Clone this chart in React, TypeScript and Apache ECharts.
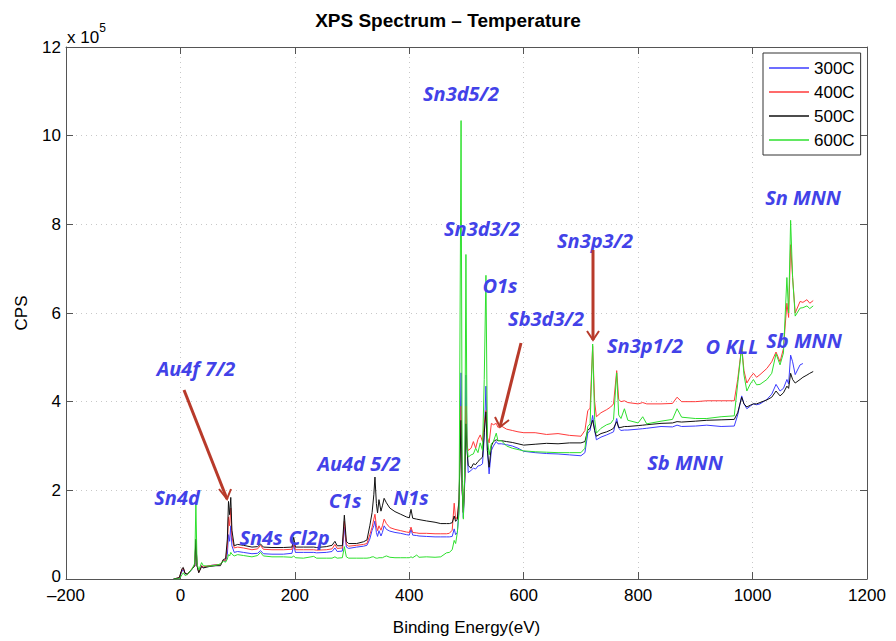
import React, { useEffect, useRef } from "react";
import * as echarts from "echarts";

// Binding energy (eV) sample points
const energies = [
  -12, -2, 3, 5, 8, 12, 20, 25, 27, 29, 32, 37, 40, 50, 62, 70, 75, 79, 82, 84, 86, 88, 90, 94,
  100, 110, 125, 135, 140, 145, 160, 180, 195, 198, 201, 215, 233, 238, 255, 265, 270, 274, 283,
  286.5, 290, 294, 308, 320, 326, 331, 335, 338, 340, 342.5, 344.5, 347, 350.5, 353, 356, 360,
  366, 375, 385, 395, 400, 403, 406, 413, 417, 430, 445, 455, 465, 470, 475, 478.5, 481, 484,
  487, 490.5, 492.5, 494.5, 497, 499, 501, 503, 508, 512, 516, 520, 524, 528, 531, 534, 536.5,
  539.5, 543.5, 547, 552, 555, 561, 570, 580, 590, 600, 620, 640, 660, 680, 700, 707, 712, 716,
  720.5, 724, 727, 735, 745, 752, 757, 762.5, 766, 770, 776, 782, 800, 808, 815, 840, 860, 868,
  876, 900, 920, 945, 968, 974, 981, 985, 990, 996, 1001.5, 1007, 1013, 1025, 1033.5, 1041,
  1048, 1054, 1060, 1063, 1066.5, 1070, 1074.5, 1083, 1088, 1095, 1100, 1106,
];

// CPS values in units of 1e5 (null = series not recorded there)
const cps300C = [
  0, 0.02, 0.18, 0.22, 0.12, 0.1, 0.22, 0.3, 0.85, 0.3, 0.16, 0.3, 0.26, 0.3, 0.32, 0.33, 0.42, 0.4, 0.55, 1.0, 0.85, 1.2, 0.75, 0.6,
  0.62, 0.6, 0.57, 0.58, 0.64, 0.57, 0.56, 0.56, 0.58, 0.77, 0.6, 0.6, 0.6, 0.59, 0.6, 0.62, 0.7, 0.62, 0.63,
  1.17, 0.72, 0.69, 0.72, 0.74, 0.76, 0.9, 1.1, 1.2, 1.31, 1.05, 0.96, 1.09, 0.97, 1.05, 1.2, 1.12,
  1.08, 1.05, 1.03, 1.0, 0.99, 1.12, 0.99, 0.98, 0.97, 0.96, 0.95, 0.95, 0.95, 0.95, 0.96, 1.13, 1.0, 1.05,
  1.6, 4.65, 2.0, 1.38, 2.2, 4.6, 3.0, 2.4, 2.45, 2.5, 2.48, 2.55, 2.56, 2.6, 3.2, 4.35, 2.9,
  2.37, 2.9, 3.0, 3.1, 3.05, 3.05, 3.03, 3.0, 2.95, 2.88, 2.85, 2.83, 2.82, 2.8, 2.78, 2.85, 3.29, 3.35,
  3.69, 3.35, 3.14, 3.2, 3.25, 3.29, 3.32, 3.62, 3.4, 3.35, 3.36, 3.36, 3.38, 3.39, 3.4, 3.44, 3.43, 3.47,
  3.44, 3.45, 3.47, 3.44, 3.45, 3.7, 4.13, 3.95, 3.84, 3.9, 3.95, 3.93, 3.95, 4.05, 4.17, 4.39,
  4.24, 4.3, 4.5, 4.4, 5.05, 4.9, 4.61, 4.83, 4.86, null, null, null,
];
const cps400C = [
  0, 0.03, 0.22, 0.25, 0.13, 0.1, 0.23, 0.3, 0.88, 0.3, 0.15, 0.3, 0.27, 0.3, 0.32, 0.33, 0.43, 0.42, 0.75, 1.4, 1.2, 1.6, 0.95, 0.7,
  0.72, 0.7, 0.66, 0.68, 0.76, 0.67, 0.66, 0.66, 0.67, 0.84, 0.66, 0.66, 0.66, 0.65, 0.66, 0.68, 0.78, 0.69, 0.7,
  1.3, 0.78, 0.74, 0.76, 0.78, 0.8, 1.0, 1.17, 1.35, 1.46, 1.2, 1.09, 1.2, 1.1, 1.2, 1.35, 1.25,
  1.16, 1.12, 1.09, 1.06, 1.05, 1.17, 1.05, 1.04, 1.03, 1.03, 1.02, 1.02, 1.02, 1.03, 1.1, 1.71, 1.35, 1.4,
  1.8, 3.9, 2.0, 1.5, 2.3, 3.9, 3.0, 2.9, 2.95, 3.1, 2.95, 3.15, 3.25, 3.1, 3.5, 3.8, 3.2,
  3.07, 3.51, 3.48, 3.51, 3.42, 3.45, 3.38, 3.35, 3.32, 3.3, 3.3, 3.26, 3.28, 3.24, 3.22, 3.35, 3.8, 3.85,
  5.25, 4.0, 3.66, 3.75, 3.82, 3.88, 3.95, 4.7, 4.05, 4.0, 4.02, 3.98, 3.95, 3.98, 3.95, 3.95, 3.96, 4.1,
  4.0, 4.0, 4.02, 4.02, 4.02, 4.5, 5.24, 4.7, 4.42, 4.55, 4.64, 4.55, 4.61, 4.75, 4.9, 5.12,
  4.9, 5.2, 6.22, 5.9, 7.54, 6.8, 6.0, 6.26, 6.24, 6.3, 6.22, 6.28,
];
const cps500C = [
  0, 0.03, 0.24, 0.26, 0.13, 0.11, 0.22, 0.3, 0.9, 0.3, 0.14, 0.28, 0.25, 0.28, 0.3, 0.3, 0.44, 0.46, 0.9, 1.75, 1.45, 1.84, 1.1, 0.75,
  0.78, 0.76, 0.72, 0.73, 0.79, 0.72, 0.71, 0.71, 0.72, 0.94, 0.72, 0.72, 0.72, 0.71, 0.73, 0.76, 0.85, 0.75, 0.75,
  1.44, 0.85, 0.8, 0.8, 0.84, 0.88, 1.2, 1.5, 1.9, 2.3, 1.7, 1.49, 1.79, 1.53, 1.65, 1.82, 1.72,
  1.6, 1.52, 1.46, 1.4, 1.38, 1.57, 1.37, 1.35, 1.34, 1.31, 1.28, 1.25, 1.25, 1.25, 1.27, 1.42, 1.3, 1.35,
  1.8, 3.58, 2.0, 1.5, 2.3, 3.5, 2.9, 2.56, 2.5, 2.6, 2.58, 2.65, 2.7, 2.75, 3.3, 3.77, 2.9,
  2.52, 3.0, 3.1, 3.14, 3.12, 3.12, 3.1, 3.08, 3.05, 3.02, 3.04, 3.06, 3.05, 3.07, 3.07, 3.1, 3.36, 3.4,
  3.58, 3.35, 3.22, 3.28, 3.32, 3.36, 3.4, 3.55, 3.42, 3.42, 3.44, 3.44, 3.46, 3.47, 3.48, 3.51, 3.52, 3.55,
  3.54, 3.56, 3.58, 3.59, 3.6, 3.75, 4.1, 3.95, 3.88, 3.92, 3.95, 3.95, 3.98, 4.04, 4.1, 4.24,
  4.13, 4.2, 4.35, 4.3, 4.64, 4.5, 4.42, 4.5, 4.55, 4.6, 4.64, 4.68,
];
const cps600C = [
  0, 0.0, 0.1, 0.14, 0.08, 0.1, 0.22, 0.35, 1.69, 0.35, 0.2, 0.37, 0.3, 0.29, 0.31, 0.34, 0.4, 0.38, 0.45, 0.55, 0.52, 0.6, 0.56, 0.52,
  0.55, 0.53, 0.5, 0.53, 0.6, 0.52, 0.5, 0.5, 0.49, 0.52, 0.48, 0.47, 0.51, 0.47, 0.47, 0.47, 0.5, 0.47, 0.48,
  0.73, 0.5, 0.47, 0.47, 0.47, 0.47, 0.48, 0.5, 0.5, 0.48, 0.47, 0.47, 0.48, 0.48, 0.48, 0.5, 0.52,
  0.49, 0.48, 0.48, 0.48, 0.48, 0.5, 0.48, 0.54, 0.49, 0.5, 0.49, 0.5, 0.59, 0.6, 0.66, 0.87, 0.8, 1.05,
  1.5, 10.34, 2.2, 1.35, 2.5, 7.32, 3.0, 2.75, 2.8, 2.82, 2.95, 2.85, 3.07, 2.9, 4.5, 6.85, 3.2,
  2.8, 3.05, 3.1, 3.29, 3.12, 3.12, 3.0, 2.95, 2.92, 2.89, 2.87, 2.86, 2.85, 2.85, 2.85, 2.95, 3.44, 3.5,
  5.3, 3.6, 3.29, 3.4, 3.48, 3.51, 3.6, 4.65, 3.7, 3.62, 3.84, 3.58, 3.52, 3.66, 3.5, 3.56, 3.6, 3.84,
  3.65, 3.62, 3.62, 3.66, 3.68, 4.4, 5.24, 4.6, 4.24, 4.4, 4.5, 4.38, 4.39, 4.5, 4.64, 5.08,
  4.83, 5.1, 6.8, 6.0, 8.09, 6.8, 5.93, 6.11, 6.12, 6.16, 6.1, 6.16,
];

const seriesNames = ["300C", "400C", "500C", "600C"];
const seriesColors = ["#3c3cff", "#ff3a3a", "#111111", "#2ee02e"];
const xTicks = { min: -200, max: 1200, interval: 200 };
const yTicks = { min: 0, max: 12, interval: 2 };

// Peak labels: [text, x px, y px]
const peakLabels: [string, number, number][] = [
  ["Sn3d5/2", 461, 93],
  ["Sn3d3/2", 482, 228],
  ["Sn3p3/2", 595, 240],
  ["Sn MNN", 803, 197],
  ["O1s", 500, 285],
  ["Sb3d3/2", 546, 318],
  ["Sn3p1/2", 645, 345],
  ["O KLL", 732, 346],
  ["Sb MNN", 804, 340],
  ["Au4f 7/2", 196, 368],
  ["Sb MNN", 685, 462],
  ["Au4d 5/2", 359, 463],
  ["Sn4d", 177, 497],
  ["C1s", 345, 500],
  ["N1s", 411, 497],
  ["Sn4s", 261, 537],
  ["Cl2p", 309, 537],
];

// Arrows: [x1, y1, tipX, tipY, armLx, armLy, armRx, armRy]
const arrows: number[][] = [
  [184, 390, 227, 499, 219, 489, 231, 489],
  [521, 343, 500, 427, 495, 417, 509, 420],
  [593, 250, 593, 340, 587, 331, 599, 331],
];

export default function App() {
  const ref = useRef<HTMLDivElement>(null);
  useEffect(() => {
    if (!ref.current) return;
    const chart = echarts.init(ref.current, null, { renderer: "svg" });
    const all = [cps300C, cps400C, cps500C, cps600C];
    const font = "Liberation Sans";
    const arrowColor = "#b83a2a";
    const graphics: any[] = [];
    peakLabels.forEach(([t, x, y]) => {
      graphics.push({
        type: "text",
        x,
        y,
        style: {
          text: t,
          align: "center",
          verticalAlign: "middle",
          fontFamily: "Open Sans",
          fontWeight: "bold",
          fontStyle: "italic",
          fontSize: 20,
          fill: "#4242e8",
        },
        z: 50,
      });
    });
    arrows.forEach((a) => {
      graphics.push({
        type: "line",
        shape: { x1: a[0], y1: a[1], x2: a[2], y2: a[3] },
        style: { stroke: arrowColor, lineWidth: 3 },
        z: 50,
      });
      graphics.push({
        type: "polyline",
        shape: { points: [[a[4], a[5]], [a[2], a[3]], [a[6], a[7]]] },
        style: { stroke: arrowColor, lineWidth: 2, fill: "none" },
        z: 50,
      });
    });
    graphics.push({
      type: "text",
      left: 67,
      top: 22,
      style: {
        text: "{a|x 10}{b|5}",
        rich: {
          a: { fontSize: 17, fontFamily: font, fill: "#000", verticalAlign: "bottom", lineHeight: 24 },
          b: { fontSize: 12, fontFamily: font, fill: "#000", verticalAlign: "top", lineHeight: 24, padding: [0, 0, 12, 0] },
        },
      },
    });

    const axisLine = { show: true, onZero: false, lineStyle: { color: "#555", width: 1 } };
    const tick = { show: true, inside: true, length: 7, lineStyle: { color: "#555" } };
    chart.setOption({
      animation: false,
      backgroundColor: "#fff",
      title: {
        text: "XPS Spectrum \u2013 Temperature",
        left: "center",
        top: 6,
        textStyle: { fontFamily: font, fontSize: 19, fontWeight: "bold", color: "#000" },
      },
      legend: {
        data: seriesNames,
        orient: "vertical",
        left: 763,
        top: 53,
        padding: [5, 6, 5, 6],
        icon: "rect",
        itemWidth: 40,
        itemHeight: 1.5,
        itemGap: 4,
        backgroundColor: "#fff",
        borderColor: "#333",
        borderWidth: 1,
        borderRadius: 0,
        textStyle: { fontFamily: font, fontSize: 17, color: "#000", lineHeight: 20 },
      },
      grid: { left: 66, right: 29, top: 47, bottom: 48, containLabel: false },
      xAxis: [
        {
          type: "value",
          ...xTicks,
          name: "Binding Energy(eV)",
          nameLocation: "middle",
          nameGap: 40,
          nameTextStyle: { fontFamily: font, fontSize: 17, color: "#000" },
          axisLine,
          axisTick: tick,
          axisLabel: {
            fontFamily: font,
            fontSize: 17,
            color: "#000",
            margin: 8,
            lineHeight: 17,
            formatter: (v: number) => String(v).replace("-", "\u2013"),
          },
          splitLine: { show: true, lineStyle: { type: [1, 4], color: "#c8c8c8" } },
        },
        {
          type: "value",
          ...xTicks,
          position: "top",
          axisLine,
          axisTick: tick,
          axisLabel: { show: false },
          splitLine: { show: false },
        },
      ],
      yAxis: [
        {
          type: "value",
          ...yTicks,
          name: "CPS",
          nameLocation: "middle",
          nameGap: 36,
          nameTextStyle: { fontFamily: font, fontSize: 17, color: "#000" },
          axisLine,
          axisTick: tick,
          axisLabel: {
            fontFamily: font,
            fontSize: 17,
            color: "#000",
            margin: 5,
            lineHeight: 15,
            formatter: (v: number) => (v === 0 ? "{z|0}" : String(v)),
            rich: { z: { fontFamily: font, fontSize: 17, color: "#000", lineHeight: 15, padding: [0, 0, 6, 0] } },
          },
          splitLine: { show: true, lineStyle: { type: [1, 4], color: "#c8c8c8" } },
        },
        {
          type: "value",
          ...yTicks,
          position: "right",
          axisLine,
          axisTick: tick,
          axisLabel: { show: false },
          splitLine: { show: false },
        },
      ],
      series: seriesNames.map((name, si) => ({
        name,
        type: "line",
        xAxisIndex: 0,
        yAxisIndex: 0,
        showSymbol: false,
        symbol: "none",
        color: seriesColors[si],
        lineStyle: { width: 1, color: seriesColors[si] },
        data: energies
          .map((e, i) => [e, all[si][i]])
          .filter((p) => p[1] !== null && p[1] !== undefined),
      })),
      graphic: graphics,
    });
    return () => chart.dispose();
  }, []);
  return (
    <div
      ref={ref}
      style={{ position: "fixed", left: 0, top: 0, width: 896, height: 641, background: "#fff" }}
    />
  );
}
